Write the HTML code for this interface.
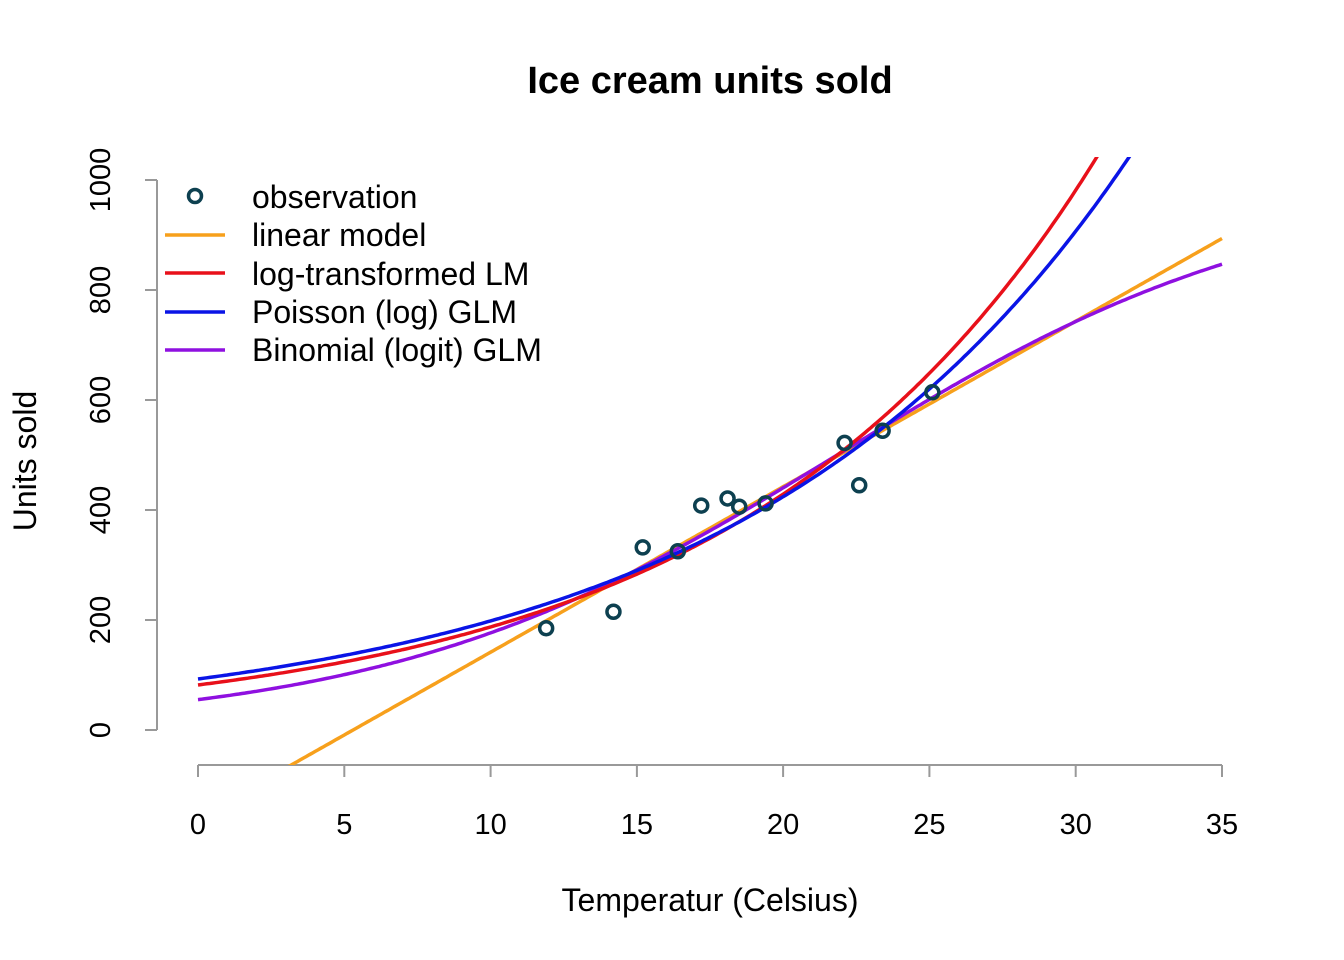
<!DOCTYPE html>
<html><head><meta charset="utf-8"><style>
body{margin:0;background:#fff}
svg{display:block;font-family:"Liberation Sans",Arial,sans-serif}
</style></head><body>
<svg id="s" width="1344" height="960" viewBox="0 0 1344 960" xmlns="http://www.w3.org/2000/svg">
<defs><clipPath id="c"><rect x="157" y="157" width="1083" height="608"/></clipPath></defs>
<text x="710" y="93" text-anchor="middle" font-size="38" font-weight="bold">Ice cream units sold</text>
<g stroke="#999" stroke-width="2" fill="none">
<line x1="157" y1="180" x2="157" y2="730"/>
<line x1="145" y1="180" x2="157" y2="180"/><line x1="145" y1="290" x2="157" y2="290"/>
<line x1="145" y1="400" x2="157" y2="400"/><line x1="145" y1="510" x2="157" y2="510"/>
<line x1="145" y1="620" x2="157" y2="620"/><line x1="145" y1="730" x2="157" y2="730"/>
<line x1="198" y1="765" x2="1222" y2="765"/>
<line x1="198" y1="765" x2="198" y2="777"/><line x1="344.3" y1="765" x2="344.3" y2="777"/>
<line x1="490.6" y1="765" x2="490.6" y2="777"/><line x1="636.9" y1="765" x2="636.9" y2="777"/>
<line x1="783.1" y1="765" x2="783.1" y2="777"/><line x1="929.4" y1="765" x2="929.4" y2="777"/>
<line x1="1075.7" y1="765" x2="1075.7" y2="777"/><line x1="1222" y1="765" x2="1222" y2="777"/>
</g>
<g font-size="29" text-anchor="middle">
<text x="198" y="834">0</text><text x="344.3" y="834">5</text><text x="490.6" y="834">10</text>
<text x="636.9" y="834">15</text><text x="783.1" y="834">20</text><text x="929.4" y="834">25</text>
<text x="1075.7" y="834">30</text><text x="1222" y="834">35</text>
<text transform="translate(110,730) rotate(-90)">0</text>
<text transform="translate(110,620) rotate(-90)">200</text>
<text transform="translate(110,510) rotate(-90)">400</text>
<text transform="translate(110,400) rotate(-90)">600</text>
<text transform="translate(110,290) rotate(-90)">800</text>
<text transform="translate(110,180) rotate(-90)">1000</text>
</g>
<g font-size="32" text-anchor="middle">
<text x="710" y="911">Temperatur (Celsius)</text>
<text transform="translate(36,461) rotate(-90)">Units sold</text>
</g>
<g id="curves" clip-path="url(#c)" fill="none" stroke-width="3.5"></g>
<g id="pts" fill="none" stroke="#0d4050" stroke-width="3.5"></g>
<g font-size="32">
<circle cx="195" cy="196" r="6.5" fill="none" stroke="#0d4050" stroke-width="3.5"/>
<line x1="165" y1="235" x2="225" y2="235" stroke="#f7a01c" stroke-width="3.5"/>
<line x1="165" y1="273" x2="225" y2="273" stroke="#e8101a" stroke-width="3.5"/>
<line x1="165" y1="312" x2="225" y2="312" stroke="#0a14e6" stroke-width="3.5"/>
<line x1="165" y1="350" x2="225" y2="350" stroke="#8f10e0" stroke-width="3.5"/>
<text x="252" y="208">observation</text>
<text x="252" y="246">linear model</text>
<text x="252" y="285">log-transformed LM</text>
<text x="252" y="323">Poisson (log) GLM</text>
<text x="252" y="361">Binomial (logit) GLM</text>
</g>
</svg>
<script>
var X=function(t){return 198+t*1024/35},Y=function(u){return 730-u*0.55};
var f=[
["#f7a01c",function(t){return -159.5+30.09*t}],
["#8f10e0",function(t){var l=-2.84+0.130*t;return 1000/(1+Math.exp(-l))}],
["#e8101a",function(t){return Math.exp(4.405+0.0828*t)}],
["#0a14e6",function(t){return Math.exp(4.53+0.076*t)}]];
var ns="http://www.w3.org/2000/svg",g=document.getElementById("curves");
f.forEach(function(c){var d="";for(var i=0;i<=350;i++){var t=i/10;d+=(i?"L":"M")+X(t).toFixed(1)+","+Y(c[1](t)).toFixed(1);}
var p=document.createElementNS(ns,"path");p.setAttribute("d",d);p.setAttribute("stroke",c[0]);g.appendChild(p);});
var T=[11.9,14.2,15.2,16.4,17.2,18.1,18.5,19.4,22.1,22.6,23.4,25.1],U=[185,215,332,325,408,421,406,412,522,445,544,614];
var pg=document.getElementById("pts");
for(var i=0;i<T.length;i++){var c=document.createElementNS(ns,"circle");c.setAttribute("cx",X(T[i]));c.setAttribute("cy",Y(U[i]));c.setAttribute("r",6.5);pg.appendChild(c);}
</script>
</body></html>
